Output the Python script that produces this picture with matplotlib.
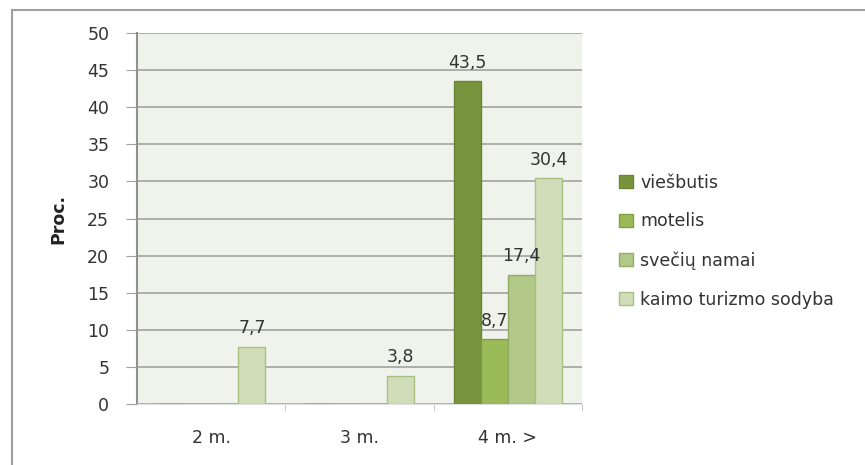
import matplotlib.pyplot as plt
import numpy as np

categories = ["2 m.", "3 m.", "4 m. >"]
series_names = ["viešbutis", "motelis", "svečių namai", "kaimo turizmo sodyba"]
viesbutis = [0, 0, 43.5]
motelis = [0, 0, 8.7]
sveciu_namai = [0, 0, 17.4]
kaimo_sodyba = [7.7, 3.8, 30.4]
y_ticks = [0, 5, 10, 15, 20, 25, 30, 35, 40, 45, 50]

fills = ["#77933C", "#9BBB59", "#B1C888", "#D0DDB8"]
edges = ["#6B8634", "#80A044", "#92AD66", "#A9C084"]

plt.rcParams["font.family"] = ["DejaVu Sans"]
fs = 12.5

fig = plt.figure(figsize=(8.65, 4.65), dpi=100)
fig.patch.set_facecolor("white")

# outer chart border (only top and left visible in the crop)
fig.add_artist(plt.Line2D([12 / 865, 12 / 865], [0, 1 - 10 / 465],
                          color="#A0A0A0", lw=1.5, transform=fig.transFigure))
fig.add_artist(plt.Line2D([12 / 865, 1], [1 - 10 / 465, 1 - 10 / 465],
                          color="#A0A0A0", lw=1.5, transform=fig.transFigure))

ax = fig.add_axes([137 / 865, 1 - 404 / 465, 445 / 865, 371 / 465])
ax.set_facecolor("#F0F3EB")

x = np.arange(len(categories))
width = 0.183
all_series = [viesbutis, motelis, sveciu_namai, kaimo_sodyba]
for i, (name, vals) in enumerate(zip(series_names, all_series)):
    pos = x + (i - 1.5) * width
    bars = ax.bar(pos, vals, width, color=fills[i], edgecolor=edges[i],
                  linewidth=1, label=name, zorder=3)
    for b, v in zip(bars, vals):
        if v > 0:
            ax.text(b.get_x() + b.get_width() / 2, v + 1.3,
                    f"{v:.1f}".replace(".", ","), ha="center", va="bottom",
                    fontsize=fs, color="#333333", zorder=4)

ax.set_xlim(-0.5, 2.5)
ax.set_ylim(0, 50)
ax.set_yticks(y_ticks)
ax.set_xticks(x)
ax.set_xticklabels(categories)
ax.set_xticks([0.5, 1.5, 2.5], minor=True)
ax.tick_params(axis="x", which="major", length=0, pad=18, labelsize=fs,
               colors="#333333")
ax.tick_params(axis="x", which="minor", length=5, color="#C0C0C0",
               direction="out")
ax.tick_params(axis="y", length=8, color="#A0A0A0", pad=12, labelsize=fs,
               labelcolor="#333333")
ax.yaxis.grid(True, color="#A8A8A8", lw=1.3, zorder=0)
ax.set_axisbelow(True)

for side in ["top", "right"]:
    ax.spines[side].set_visible(False)
ax.spines["left"].set_color("#909090")
ax.spines["left"].set_linewidth(1.5)
ax.spines["bottom"].set_color("#E0E0E0")

ax.set_ylabel("Proc.", fontsize=fs, fontweight="bold", labelpad=14,
              color="#222222")

fig.legend(loc="center left", bbox_to_anchor=(610 / 865, 1 - 241 / 465),
           frameon=False, fontsize=fs, handlelength=0.8, handleheight=0.8,
           handletextpad=0.45, labelspacing=1.2, borderpad=0,
           labelcolor="#333333")

fig.savefig("out.png", dpi=100)
